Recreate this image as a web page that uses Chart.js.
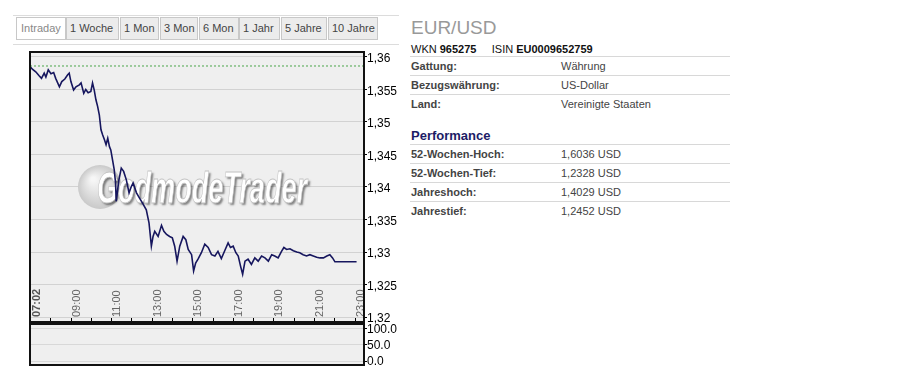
<!DOCTYPE html>
<html>
<head>
<meta charset="utf-8">
<script src="https://cdn.jsdelivr.net/npm/chart.js@4.4.1/dist/chart.umd.min.js"></script>
<style>
  body { margin: 0; background: #fff; font-family: Arial, "Liberation Sans", sans-serif; }
  #page { position: relative; width: 900px; height: 377px; overflow: hidden; }
  .hline { position: absolute; left: 13px; width: 386px; height: 1px; background: #dcdcdc; }
  .tab { position: absolute; top: 17px; height: 23px; box-sizing: border-box; border: 1px solid #c8c8c8;
         background: #ececec; color: #444; font-size: 11px; line-height: 21px; padding-left: 3px; white-space: nowrap; }
  .tab.active { background: #fff; color: #888; padding-left: 4px; }
  canvas { position: absolute; left: 0; }
  .info { position: absolute; left: 411px; font-size: 11px; color: #333; white-space: nowrap; }
  .row { position: absolute; left: 410px; width: 320px; height: 19px; border-top: 1px solid #d8d8d8;
         font-size: 11px; line-height: 19px; color: #444; white-space: nowrap; }
  .row b { position: absolute; left: 1px; color: #444; }
  .row span { position: absolute; left: 151px; }
</style>
</head>
<body>
<div id="page">
  <div class="hline" style="top:15px"></div>
  <div class="hline" style="top:44px"></div>
  <div class="tab active" style="left:16px;width:50px">Intraday</div>
  <div class="tab" style="left:66px;width:53px">1 Woche</div>
  <div class="tab" style="left:120px;width:39px">1 Mon</div>
  <div class="tab" style="left:160px;width:38px">3 Mon</div>
  <div class="tab" style="left:199px;width:40px">6 Mon</div>
  <div class="tab" style="left:239px;width:41px">1 Jahr</div>
  <div class="tab" style="left:281px;width:46px">5 Jahre</div>
  <div class="tab" style="left:328px;width:50px">10 Jahre</div>

  <canvas id="main" width="400" height="292" style="top:40px"></canvas>
  <canvas id="osc" width="400" height="62" style="top:314px"></canvas>

  <div class="info" style="top:17px;font-size:19px;line-height:22px;color:#999">EUR/USD</div>
  <div class="info" style="top:43px;line-height:13px;color:#111">WKN <b>965275</b>&nbsp;&nbsp;&nbsp;&nbsp;&nbsp;ISIN <b>EU0009652759</b></div>
  <div class="row" style="top:56px"><b>Gattung:</b><span>Währung</span></div>
  <div class="row" style="top:75px"><b>Bezugswährung:</b><span>US-Dollar</span></div>
  <div class="row" style="top:94px;border-bottom:none"><b>Land:</b><span>Vereinigte Staaten</span></div>
  <div class="info" style="top:128px;font-size:13px;line-height:16px;font-weight:bold;color:#1c1c66">Performance</div>
  <div class="row" style="top:144px"><b>52-Wochen-Hoch:</b><span>1,6036 USD</span></div>
  <div class="row" style="top:163px"><b>52-Wochen-Tief:</b><span>1,2328 USD</span></div>
  <div class="row" style="top:182px"><b>Jahreshoch:</b><span>1,4029 USD</span></div>
  <div class="row" style="top:201px"><b>Jahrestief:</b><span>1,2452 USD</span></div>
</div>

<script>
// EUR/USD intraday
const times = [
  '07:02','07:07','07:17','07:27','07:34','07:42','07:47','07:54','08:02','08:10',
  '08:16','08:27','08:34','08:43','08:51','08:56','09:01','09:09','09:16','09:26',
  '09:31','09:39','09:45','09:52','10:00','10:05','10:10','10:15','10:20','10:25',
  '10:30','10:35','10:40','10:45','10:50','10:55','10:59','11:04','11:09','11:13',
  '11:15','11:23','11:30','11:37','11:45','11:53','12:00','12:05','12:15','12:24',
  '12:32','12:44','12:52','12:59','13:04','13:09','13:19','13:29','13:36','13:44',
  '13:53','14:01','14:08','14:15','14:23','14:33','14:41','14:48','14:58','15:04',
  '15:10','15:17','15:27','15:37','15:47','15:57','16:07','16:16','16:26','16:36',
  '16:46','16:53','17:01','17:09','17:16','17:23','17:29','17:36','17:45','17:55',
  '18:05','18:15','18:25','18:35','18:45','18:55','19:04','19:14','19:24','19:31',
  '19:39','19:49','19:59','20:09','20:18','20:28','20:38','20:48','20:58','21:08',
  '21:18','21:28','21:38','21:47','21:55','22:02','23:06'
];
const rates = [
  1.3584,1.3581,1.3577,1.3571,1.3567,1.3575,1.3569,1.3580,1.3574,1.3576,
  1.3567,1.3554,1.3562,1.3566,1.3572,1.3575,1.3562,1.3549,1.3554,1.3557,
  1.3560,1.3544,1.3550,1.3545,1.3547,1.3560,1.3549,1.3534,1.3524,1.3511,
  1.3488,1.3480,1.3473,1.3465,1.3475,1.3462,1.3457,1.3442,1.3427,1.3407,
  1.3378,1.3411,1.3429,1.3424,1.3411,1.3391,1.3401,1.3406,1.3391,1.3383,
  1.3376,1.3365,1.3345,1.3309,1.3324,1.3332,1.3324,1.3341,1.3332,1.3327,
  1.3324,1.3322,1.3309,1.3286,1.3309,1.3324,1.3319,1.3304,1.3296,1.3271,
  1.3283,1.3289,1.3299,1.3312,1.3307,1.3296,1.3294,1.3301,1.3290,1.3302,
  1.3314,1.3307,1.3309,1.3299,1.3294,1.3278,1.3266,1.3286,1.3289,1.3281,
  1.3291,1.3286,1.3294,1.3291,1.3286,1.3296,1.3294,1.3291,1.3301,1.3307,
  1.3304,1.3305,1.3302,1.3300,1.3299,1.3296,1.3294,1.3296,1.3294,1.3292,
  1.3291,1.3291,1.3294,1.3296,1.3291,1.3285,1.3285
];
const prevClose = 1.3586;
const axisStart = '07:00';
const axisEnd = '23:28';
const xTickLabels = ['07:02','09:00','11:00','13:00','15:00','17:00','19:00','21:00','23:00'];
const hourMarks = ['08:00','09:00','10:00','11:00','12:00','13:00','14:00','15:00','16:00',
                   '17:00','18:00','19:00','20:00','21:00','22:00','23:00'];
const yTicks = [1.32, 1.325, 1.33, 1.335, 1.34, 1.345, 1.35, 1.355, 1.36];
const oscTicks = [0, 50, 100];

const toMin = t => {
  const [h, m] = t.split(':').map(Number);
  return (h - 7) * 60 + m;
};

const frame = {
  id: 'frame',
  afterDraw(chart) {
    const { ctx, chartArea: a } = chart;
    ctx.save();
    ctx.strokeStyle = '#111';
    ctx.lineWidth = 2;
    ctx.strokeRect(a.left, a.top, a.right - a.left, a.bottom - a.top);
    ctx.restore();
  }
};

const background = {
  id: 'background',
  beforeDraw(chart) {
    const { ctx, chartArea: a } = chart;
    ctx.save();
    ctx.fillStyle = '#efefef';
    ctx.fillRect(a.left, a.top, a.right - a.left, a.bottom - a.top);
    ctx.restore();
  }
};

const watermark = {
  id: 'watermark',
  beforeDatasetsDraw(chart) {
    const { ctx, chartArea: a } = chart;
    const cx = a.left + 70, cy = a.top + 135, r = 22;
    ctx.save();
    const g = ctx.createRadialGradient(cx - 7, cy - 8, 2, cx, cy, r);
    g.addColorStop(0, '#f6f6f6');
    g.addColorStop(1, '#c9c9c9');
    ctx.fillStyle = g;
    ctx.beginPath();
    ctx.arc(cx, cy, r, 0, Math.PI * 2);
    ctx.fill();

    ctx.font = 'italic bold 44px "Liberation Sans Narrow", "Liberation Sans", Arial';
    const txt = 'GodmodeTrader';
    const w = ctx.measureText(txt).width;
    ctx.translate(a.left + 67, a.top + 151);
    ctx.scale(210 / w, 1);
    ctx.shadowColor = 'rgba(0,0,0,0.45)';
    ctx.shadowOffsetX = 2;
    ctx.shadowOffsetY = 2;
    ctx.shadowBlur = 2;
    ctx.fillStyle = '#fff';
    ctx.fillText(txt, 0, 0);
    ctx.shadowColor = 'transparent';
    ctx.strokeStyle = '#c4c4c4';
    ctx.lineWidth = 0.8;
    ctx.strokeText(txt, 0, 0);
    ctx.restore();
  }
};

const timeAxis = {
  id: 'timeAxis',
  afterDraw(chart) {
    const { ctx, chartArea: a, scales } = chart;
    const x = scales.x;
    ctx.save();
    ctx.strokeStyle = '#000';
    ctx.lineWidth = 1;
    hourMarks.forEach(t => {
      const px = Math.round(x.getPixelForValue(toMin(t))) + 0.5;
      ctx.beginPath();
      ctx.moveTo(px, a.bottom - 4);
      ctx.lineTo(px, a.bottom);
      ctx.stroke();
    });
    ctx.textAlign = 'left';
    ctx.textBaseline = 'middle';
    xTickLabels.forEach((t, i) => {
      const px = x.getPixelForValue(toMin(t));
      ctx.save();
      ctx.translate(px + 6, a.bottom - 5);
      ctx.rotate(-Math.PI / 2);
      ctx.font = (i === 0 ? 'bold ' : '') + '11px Arial, "Liberation Sans"';
      ctx.fillStyle = i === 0 ? '#555' : '#666';
      ctx.fillText(t, 0, 0);
      ctx.restore();
    });
    ctx.restore();
  }
};

new Chart(document.getElementById('main'), {
  type: 'line',
  data: {
    datasets: [
      {
        data: times.map((t, i) => ({ x: toMin(t), y: rates[i] })),
        borderColor: '#16165e',
        borderWidth: 1.6,
        pointRadius: 0,
        tension: 0
      },
      {
        data: [{ x: toMin(axisStart), y: prevClose }, { x: toMin(axisEnd), y: prevClose }],
        borderColor: '#4aa64a',
        borderWidth: 1,
        borderDash: [2, 2],
        pointRadius: 0
      }
    ]
  },
  options: {
    responsive: false,
    animation: false,
    layout: { padding: { left: 30, top: 12, bottom: 10, right: 0 } },
    plugins: { legend: { display: false }, tooltip: { enabled: false } },
    scales: {
      x: { type: 'linear', display: false, min: toMin(axisStart), max: toMin(axisEnd) },
      y: {
        position: 'right',
        min: 1.31925,
        max: 1.36075,
        afterBuildTicks: s => { s.ticks = yTicks.map(v => ({ value: v })); },
        afterFit: s => { s.width = 36; },
        border: { display: false },
        grid: { color: '#d2d2d2', tickColor: '#000', tickLength: 3 },
        ticks: {
          padding: 0,
          labelOffset: 2,
          color: '#000',
          font: { family: 'Arial, "Liberation Sans"', size: 12 },
          callback: v => String(v).replace('.', ',')
        }
      }
    }
  },
  plugins: [background, watermark, timeAxis, frame]
});

new Chart(document.getElementById('osc'), {
  type: 'line',
  data: { datasets: [] },
  options: {
    responsive: false,
    animation: false,
    layout: { padding: { left: 30, top: 10, bottom: 11, right: 0 } },
    plugins: { legend: { display: false }, tooltip: { enabled: false } },
    scales: {
      x: { type: 'linear', display: false, min: toMin(axisStart), max: toMin(axisEnd) },
      y: {
        position: 'right',
        min: -12.3,
        max: 113.8,
        afterBuildTicks: s => { s.ticks = oscTicks.map(v => ({ value: v })); },
        afterFit: s => { s.width = 36; },
        border: { display: false },
        grid: { color: '#d8d8d8', tickColor: '#000', tickLength: 3 },
        ticks: {
          padding: 0,
          labelOffset: 1,
          color: '#000',
          font: { family: 'Arial, "Liberation Sans"', size: 12 },
          callback: v => v.toFixed(1)
        }
      }
    }
  },
  plugins: [background, frame]
});
</script>
</body>
</html>
